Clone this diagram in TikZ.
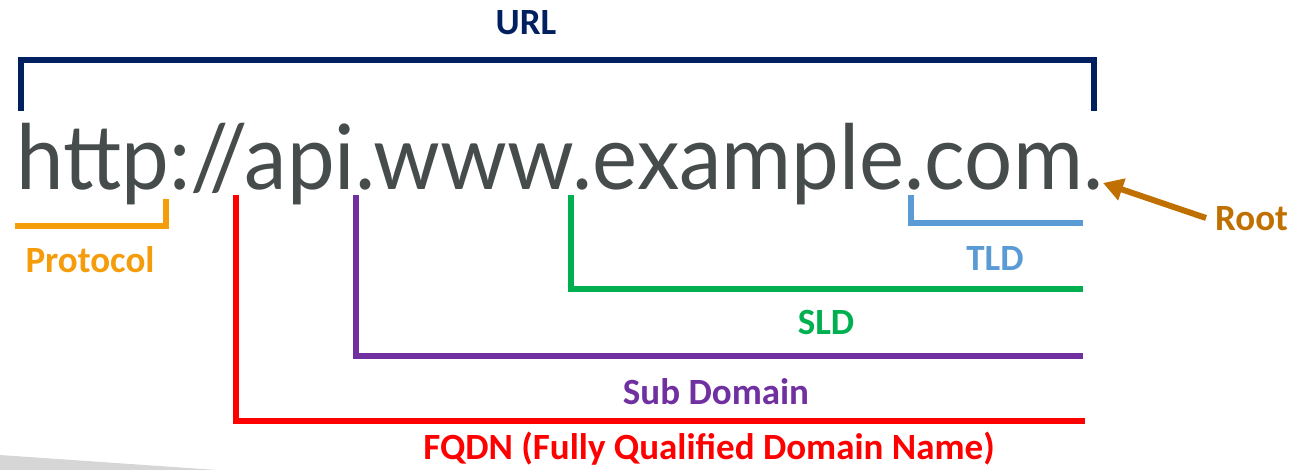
\documentclass[tikz,border=0pt]{standalone}
\usepackage{fontspec}
\setmainfont{Carlito}
\newfontfamily\urlfont{Lato}
\usetikzlibrary{arrows.meta}
\definecolor{cnavy}{HTML}{002060}
\definecolor{cgray}{HTML}{464B4B}
\definecolor{corange}{HTML}{F59C0B}
\definecolor{cblue}{HTML}{5B9BD5}
\definecolor{cgreen}{HTML}{00B050}
\definecolor{cpurple}{HTML}{7030A0}
\definecolor{cred}{HTML}{FF0000}
\definecolor{cbrown}{HTML}{BF7000}
\definecolor{cwedge}{HTML}{D6D6D6}
\tikzset{
  lbl/.style={inner sep=0pt, anchor=base, font=\fontsize{37}{42}\selectfont\bfseries},
  brk/.style={line width=6pt, line cap=butt, line join=miter},
}
\begin{document}
\begin{tikzpicture}[x=1pt,y=-1pt]
\useasboundingbox (0,0) rectangle (1291,470);
\fill[cwedge] (0,455) -- (217,470) -- (0,470) -- cycle;
% URL text
\node[inner sep=0pt, anchor=base west, text=cgray, font=\urlfont\fontsize{90}{100}\selectfont] (url) at (16,190) {\scalebox{0.946}[1]{http://api.www.example.com.}};
% labels
\node[lbl, text=cnavy] (urllbl) at (526,35) {URL};
\node[lbl, text=corange] (proto) at (90,273) {Protocol};
\node[lbl, text=cblue] (tld) at (995,271) {TLD};
\node[lbl, text=cgreen] (sld) at (826,335) {SLD};
\node[lbl, text=cpurple] (sub) at (716,404) {Sub Domain};
\node[lbl, text=cred] (fqdn) at (709,459) {FQDN (Fully Qualified Domain Name)};
\node[lbl, text=cbrown, anchor=base west] (root) at (1215,231) {Root};
% coordinates
\coordinate (uA) at (21,111);
\coordinate (uB) at (1094,111);
\coordinate (pA) at (165.5,199);
\coordinate (pB) at (15,226);
\coordinate (tA) at (910.5,195);
\coordinate (tB) at (1083,223);
\coordinate (sA) at (571,195);
\coordinate (sB) at (1083,289.5);
\coordinate (dA) at (355.5,195);
\coordinate (dB) at (1083,356);
\coordinate (fA) at (236,195);
\coordinate (fB) at (1085,421);
\coordinate (rT) at (1103,183);
\coordinate (rS) at (1206,218);
% brackets
\draw[brk, cnavy] (uA) |- (1094,60) -- (uB);
\draw[brk, corange] (pA) |- (pB);
\draw[brk, cblue] (tA) |- (tB);
\draw[brk, cgreen] (sA) |- (sB);
\draw[brk, cpurple] (dA) |- (dB);
\draw[brk, cred] (fA) |- (fB);
\draw[line width=6pt, cbrown, -{Triangle[length=20pt,width=22pt]}] (rS) -- (rT);
\end{tikzpicture}
\end{document}
